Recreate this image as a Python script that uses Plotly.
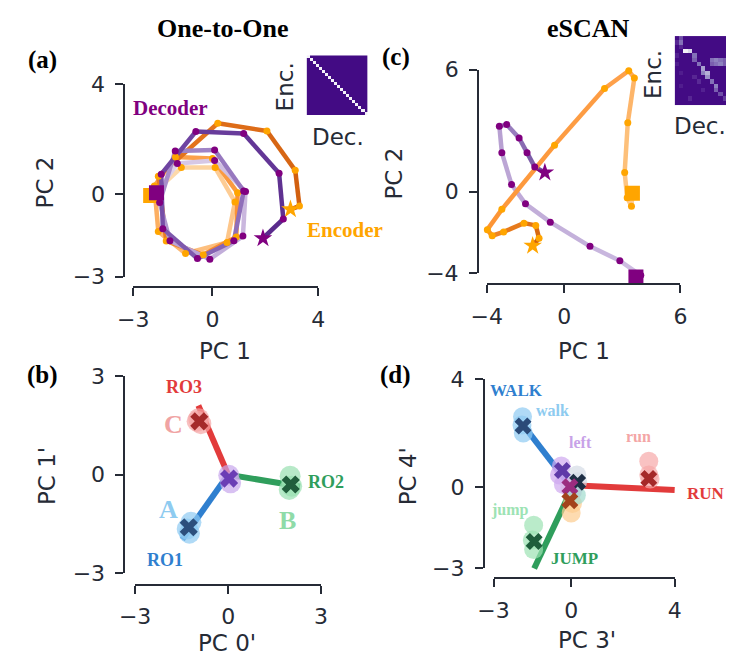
import numpy as np
import plotly.graph_objects as go

W, H = 733, 672
AX = "#262b36"
SERIF = "Liberation Serif, Times New Roman, serif"
SANS = "DejaVu Sans, sans-serif"

# ---------------- data ----------------
# (a) One-to-One trajectories in PC1/PC2
A_ENC_X = [-2.34, -1.18, 0.10, 0.85, 0.55, -1.02, -2.05, -2.20, -1.40, 0.00, 0.95, 0.90, -0.35, -1.75, -2.05, 0.20, 2.06, 3.13, 3.29, 2.95]
A_ENC_Y = [-0.05, 0.97, 0.97, -0.28, -1.75, -2.15, -1.35, 0.30, 1.35, 1.30, 0.05, -1.55, -2.20, -1.70, 0.65, 2.58, 2.30, 0.87, -0.43, -0.55]
A_DEC_X = [-2.12, -1.33, 0.08, 1.25, 1.15, -0.10, -1.61, -2.00, -1.41, 0.08, 1.18, 0.81, -0.57, -1.88, -1.94, -0.63, 1.18, 2.52, 2.68, 1.91]
A_DEC_Y = [0.05, 1.12, 1.23, 0.10, -1.52, -2.36, -1.69, -0.30, 1.57, 1.61, 0.12, -1.69, -2.34, -1.25, 0.73, 2.28, 2.21, 0.76, -0.90, -1.60]

# (c) eSCAN trajectories in PC1/PC2
C_ENC_X = [3.52, 3.47, 3.25, 3.12, 3.28, 3.62, 3.33, 2.08, -0.50, -3.22, -3.97, -3.72, -3.13, -2.08, -1.47, -1.30, -1.63]
C_ENC_Y = [-0.08, -0.72, -0.30, 0.94, 3.39, 5.60, 5.95, 5.08, 2.29, -0.87, -1.87, -2.17, -1.98, -1.55, -1.66, -2.29, -2.66]
C_DEC_X = [3.70, 3.95, 2.87, 1.33, -0.72, -2.00, -2.72, -3.22, -3.35, -2.97, -2.33, -1.92, -1.52, -1.00]
C_DEC_Y = [-4.20, -4.12, -3.40, -2.69, -1.50, -0.60, 0.35, 1.92, 3.22, 3.31, 2.64, 1.92, 1.21, 0.94]

# (a) alignment matrix: one-to-one (diagonal)
A_ALIGN_N = 20
# (c) alignment matrix: sparse entries (row, col, value)
C_ALIGN_N = 16
C_ALIGN_CELLS = [
    (0, 1, 0.45), (1, 1, 0.55), (1, 0, 0.30), (2, 1, 0.30),
    (3, 2, 1.00), (3, 3, 0.90), (4, 4, 0.55), (5, 4, 0.50),
    (6, 5, 0.55), (7, 6, 0.70), (8, 6, 0.60), (8, 7, 0.75),
    (9, 7, 0.65), (10, 8, 0.55), (11, 9, 0.60), (12, 9, 0.50),
    (13, 10, 0.45), (14, 11, 0.40),
    (5, 8, 0.55), (5, 9, 0.60), (5, 10, 0.55), (5, 11, 0.50),
    (6, 8, 0.50), (6, 9, 0.55), (6, 10, 0.60), (6, 11, 0.50),
    (10, 5, 0.35), (14, 3, 0.30), (4, 0, 0.25), (6, 0, 0.20),
    (8, 1, 0.20), (11, 1, 0.20), (9, 4, 0.30), (12, 6, 0.25),
]

# (b) readouts and clusters (order: A/RO1, B/RO2, C/RO3, origin)
B_RO_END_X = [-1.48, 2.32, -0.96]
B_RO_END_Y = [-1.97, -0.36, 2.10]
B_CENT_X = [-1.27, 2.02, -0.93, 0.03]
B_CENT_Y = [-1.60, -0.30, 1.62, -0.12]
B_BLOB_X = [[-1.20, -1.32, -1.25], [2.00, 2.05, 1.97], [-0.95, -0.88, -1.00], [0.02, 0.08]]
B_BLOB_Y = [[-1.45, -1.65, -1.78], [-0.05, -0.35, -0.45], [1.70, 1.55, 1.62], [-0.02, -0.25]]

# (d) readouts (WALK, RUN, JUMP) and clusters
D_RO_START_X = [0.00, 0.05, 0.00]
D_RO_START_Y = [0.00, 0.07, -0.10]
D_RO_END_X = [-1.86, 4.00, -1.43]
D_RO_END_Y = [2.30, -0.10, -3.00]
D_CENT_X = [-1.86, 3.00, -1.43, -0.34, 0.25, -0.05, -0.05]
D_CENT_Y = [2.26, 0.32, -2.00, 0.62, 0.18, 0.02, -0.50]
D_BLOB_X = [[-1.88, -1.90, -1.85], [3.00, 3.00, 3.05], [-1.45, -1.50, -1.45], [-0.38, -0.45, -0.30], [0.22, 0.25], [-0.05, 0.05], [0.00, 0.05], [0.20]]
D_BLOB_Y = [[2.60, 2.30, 2.00], [0.96, 0.45, 0.30], [-1.40, -1.95, -2.30], [0.78, 0.45, 0.10], [0.45, 0.20], [0.00, -0.15], [-0.95, -0.60], [-0.30]]

# ---------------- helpers ----------------
def fx(px):
    return px / W

def fy(py):
    return 1 - py / H

def hex2rgb(h):
    h = h.lstrip('#')
    return tuple(int(h[i:i + 2], 16) for i in (0, 2, 4))

def ramp(stops, t):
    n = len(stops) - 1
    pos = max(0.0, min(1.0, t)) * n
    i = min(int(pos), n - 1)
    f = pos - i
    a, b = hex2rgb(stops[i]), hex2rgb(stops[i + 1])
    c = tuple(round(a[k] + (b[k] - a[k]) * f) for k in range(3))
    return 'rgb(%d,%d,%d)' % c

fig = go.Figure()

def add_path(xs, ys, stops, width, xa, ya):
    n = len(xs)
    for i in range(n - 1):
        t = i / (n - 2) if n > 2 else 0
        fig.add_trace(go.Scatter(x=[xs[i], xs[i + 1]], y=[ys[i], ys[i + 1]], mode='lines',
                                 line=dict(color=ramp(stops, t), width=width),
                                 xaxis=xa, yaxis=ya, showlegend=False, hoverinfo='skip'))

def add_markers(xs, ys, col, xa, ya, dot=7, sq=15, star=14):
    fig.add_trace(go.Scatter(x=xs[1:-1], y=ys[1:-1], mode='markers', marker=dict(color=col, size=dot),
                             xaxis=xa, yaxis=ya, showlegend=False, hoverinfo='skip'))
    fig.add_trace(go.Scatter(x=[xs[0]], y=[ys[0]], mode='markers',
                             marker=dict(symbol='square', color=col, size=sq),
                             xaxis=xa, yaxis=ya, showlegend=False, hoverinfo='skip'))
    fig.add_trace(go.Scatter(x=[xs[-1]], y=[ys[-1]], mode='markers',
                             marker=dict(symbol='star', color=col, size=star),
                             xaxis=xa, yaxis=ya, showlegend=False, hoverinfo='skip'))

ORANGE = '#ffa500'
PURPLE = '#800080'
ENC_A = ['#fdd9aa', '#fdc283', '#fca552', '#f98e30', '#e0701a', '#cc5a0c']
DEC_A = ['#ddd0ea', '#c6b2dc', '#a68bc9', '#8866b5', '#6b3f9e', '#5a2b8c']
ENC_C = ['#fdce94', '#fdc07a', '#fea04a', '#fc9536', '#e67a1c', '#d0600c']
DEC_C = ['#d3c4e5', '#c6b3dc', '#c0abd8', '#b7a0d2', '#8e71b6', '#6f4f9e']

# ---- panel (a)
add_path(A_ENC_X, A_ENC_Y, ENC_A, 4.5, 'x', 'y')
add_path(A_DEC_X, A_DEC_Y, DEC_A, 4.5, 'x', 'y')
add_markers(A_ENC_X, A_ENC_Y, ORANGE, 'x', 'y')
add_markers(A_DEC_X, A_DEC_Y, PURPLE, 'x', 'y')

# ---- panel (c)
add_path(C_DEC_X, C_DEC_Y, DEC_C, 4.5, 'x2', 'y2')
add_path(C_ENC_X, C_ENC_Y, ENC_C, 4.5, 'x2', 'y2')
add_markers(C_DEC_X, C_DEC_Y, PURPLE, 'x2', 'y2')
add_markers(C_ENC_X, C_ENC_Y, ORANGE, 'x2', 'y2')

# ---- panel (b)
B_LINE_COL = ['#2f7fcf', '#2f9e5c', '#e23b3b']
B_BLOB_COL = ['#8ecbf2', '#98dfb0', '#f5a5a5', '#c7a6ec']
B_X_COL = ['#2c4f7c', '#215e3c', '#a52a2a', '#6a3db5']
for i in range(3):
    fig.add_trace(go.Scatter(x=[0, B_RO_END_X[i]], y=[0, B_RO_END_Y[i]], mode='lines',
                             line=dict(color=B_LINE_COL[i], width=6), xaxis='x3', yaxis='y3',
                             showlegend=False, hoverinfo='skip'))
for i in range(4):
    fig.add_trace(go.Scatter(x=B_BLOB_X[i], y=B_BLOB_Y[i], mode='markers',
                             marker=dict(color=B_BLOB_COL[i], size=21, opacity=0.7),
                             xaxis='x3', yaxis='y3', showlegend=False, hoverinfo='skip'))
for i in range(4):
    fig.add_trace(go.Scatter(x=[B_CENT_X[i]], y=[B_CENT_Y[i]], mode='markers',
                             marker=dict(symbol='x', color=B_X_COL[i], size=16),
                             xaxis='x3', yaxis='y3', showlegend=False, hoverinfo='skip'))

# ---- panel (d)
D_LINE_COL = ['#2f7fcf', '#e23b3b', '#2f9e5c']
D_BLOB_COL = ['#8ecbf2', '#f7a8a8', '#9de3b4', '#cfa8ef', '#d4dce6', '#d9b3e6', '#fccc8e', '#9fdccd']
D_X_COL = ['#2a4a78', '#a52828', '#1f5e3c', '#5f3aa8', '#1f2f45', '#9b2d7f', '#a3431c']
for i in range(3):
    fig.add_trace(go.Scatter(x=[D_RO_START_X[i], D_RO_END_X[i]], y=[D_RO_START_Y[i], D_RO_END_Y[i]], mode='lines',
                             line=dict(color=D_LINE_COL[i], width=6), xaxis='x4', yaxis='y4',
                             showlegend=False, hoverinfo='skip'))
for i in range(len(D_BLOB_X)):
    fig.add_trace(go.Scatter(x=D_BLOB_X[i], y=D_BLOB_Y[i], mode='markers',
                             marker=dict(color=D_BLOB_COL[i], size=19, opacity=0.7),
                             xaxis='x4', yaxis='y4', showlegend=False, hoverinfo='skip'))
for i in range(len(D_CENT_X)):
    fig.add_trace(go.Scatter(x=[D_CENT_X[i]], y=[D_CENT_Y[i]], mode='markers',
                             marker=dict(symbol='x', color=D_X_COL[i], size=15),
                             xaxis='x4', yaxis='y4', showlegend=False, hoverinfo='skip'))

# ---- heatmaps
HM_SCALE = [[0, '#430b84'], [0.35, '#5a2a96'], [0.6, '#8f83c0'], [0.8, '#c4c0e0'], [1, '#f3f1f8']]
za = np.eye(A_ALIGN_N)
fig.add_trace(go.Heatmap(z=za, colorscale=HM_SCALE, zmin=0, zmax=1, showscale=False,
                         xaxis='x5', yaxis='y5', hoverinfo='skip'))
zc = np.zeros((C_ALIGN_N, C_ALIGN_N))
for r, c, v in C_ALIGN_CELLS:
    zc[r, c] = v
fig.add_trace(go.Heatmap(z=zc, colorscale=HM_SCALE, zmin=0, zmax=1, showscale=False,
                         xaxis='x6', yaxis='y6', hoverinfo='skip'))

# ---------------- axes ----------------
def tt(v):
    return ('\u2212%g' % -v) if v < 0 else ('%g' % v)

EXT = 0.8  # invisible margin (data units) around each panel so marks are not clipped

def panel_axes(n_data, n_spine, xpx, xr, xt, ypx, yr, yt, xspine_py, yspine_px):
    sx = (xpx[1] - xpx[0]) / (xr[1] - xr[0])
    sy = (ypx[1] - ypx[0]) / (yr[1] - yr[0])
    d = {}
    kx = 'xaxis' if n_data == 1 else 'xaxis%d' % n_data
    ky = 'yaxis' if n_data == 1 else 'yaxis%d' % n_data
    d[kx] = dict(domain=[fx(xpx[0] - EXT * sx), fx(xpx[1] + EXT * sx)],
                 range=[xr[0] - EXT, xr[1] + EXT], visible=False,
                 anchor='y' if n_data == 1 else 'y%d' % n_data, fixedrange=True)
    d[ky] = dict(domain=[fy(ypx[1] + EXT * sy), fy(ypx[0] - EXT * sy)],
                 range=[yr[0] - EXT, yr[1] + EXT], visible=False,
                 anchor='x' if n_data == 1 else 'x%d' % n_data, fixedrange=True)
    common = dict(showline=True, linecolor=AX, linewidth=2, ticks='outside', ticklen=8,
                  tickwidth=2, tickcolor=AX, showgrid=False, zeroline=False,
                  tickfont=dict(family=SANS, size=22, color=AX), fixedrange=True,
                  anchor='free')
    d['xaxis%d' % n_spine] = dict(domain=[fx(xpx[0]), fx(xpx[1])], range=xr, tickvals=xt,
                                  ticktext=[tt(v) for v in xt], position=fy(xspine_py),
                                  ticklabelstandoff=4, **common)
    d['yaxis%d' % n_spine] = dict(domain=[fy(ypx[1]), fy(ypx[0])], range=yr, tickvals=yt,
                                  ticktext=[tt(v) for v in yt], position=fx(yspine_px),
                                  ticklabelstandoff=6, **common)
    fig.add_trace(go.Scatter(x=[], y=[], xaxis='x%d' % n_spine, yaxis='y%d' % n_spine,
                             showlegend=False, hoverinfo='skip'))
    return d

layout = {}
layout.update(panel_axes(1, 7, [121, 312], [-3, 4], [-3, 0, 4], [75, 275], [-3, 4], [-3, 0, 4], 286, 112))
layout.update(panel_axes(2, 8, [486, 686], [-4, 6], [-4, 0, 6], [60, 271], [-4, 6], [-4, 0, 6], 283, 477))
layout.update(panel_axes(3, 9, [123, 315], [-3, 3], [-3, 0, 3], [378, 583], [-3, 3], [-3, 0, 3], 595, 112))
layout.update(panel_axes(4, 10, [493, 680], [-3, 4], [-3, 0, 4], [381, 578], [-3, 4], [-3, 0, 4], 588, 483))
layout.update(dict(
    xaxis5=dict(domain=[fx(300), fx(363)], range=[-0.5, A_ALIGN_N - 0.5], visible=False, anchor='y5'),
    yaxis5=dict(domain=[fy(107), fy(45)], range=[A_ALIGN_N - 0.5, -0.5], visible=False, anchor='x5'),
    xaxis6=dict(domain=[fx(680), 1.0], range=[-0.5, -0.5 + 53 / 4.5], visible=False, anchor='y6'),
    yaxis6=dict(domain=[fy(97), fy(25)], range=[C_ALIGN_N - 0.5, -0.5], visible=False, anchor='x6'),
))

# ---------------- annotations ----------------
ann = []
def txt(s, px, py, size, color=AX, family=SANS, angle=0, xanchor='center'):
    ann.append(dict(text=s, x=fx(px), y=fy(py), xref='paper', yref='paper', showarrow=False,
                    xanchor=xanchor, yanchor='middle', textangle=angle,
                    font=dict(family=family, size=size, color=color)))

txt('<b>One-to-One</b>', 213, 17, 26, '#000000', SERIF)
txt('<b>eSCAN</b>', 591, 17, 26, '#000000', SERIF)
txt('<b>(a)</b>', 27, 50, 25, '#000000', SERIF)
txt('<b>(c)</b>', 392, 47, 25, '#000000', SERIF)
txt('<b>(b)</b>', 27, 377, 25, '#000000', SERIF)
txt('<b>(d)</b>', 392, 377, 25, '#000000', SERIF)

txt('PC 1', 216, 352, 23)
txt('PC 2', 30, 177, 23, angle=-90)
txt('PC 1', 586, 352, 23)
txt('PC 2', 390, 168, 23, angle=-90)
txt("PC 0'", 218, 655, 23)
txt("PC 1'", 32, 482, 23, angle=-90)
txt("PC 3'", 590, 652, 23)
txt("PC 4'", 405, 482, 23, angle=-90)

txt('Enc.', 278, 78, 23, angle=-90)
txt('Dec.', 332, 130, 23)
txt('Enc.', 657, 65, 23, angle=-90)
txt('Dec.', 706, 118, 23)

txt('<b>Decoder</b>', 159, 100, 21, PURPLE, SERIF)
txt('<b>Encoder</b>', 298, 226, 21, ORANGE, SERIF, xanchor='left')

txt('<b>RO3</b>', 173, 389, 18, '#e23b3b', SERIF)
txt('<b>C</b>', 163, 428, 26, '#f0a3a3', SERIF)
txt('<b>RO2</b>', 320, 488, 18, '#2f9e5c', SERIF)
txt('<b>B</b>', 280, 528, 26, '#8fdba8', SERIF)
txt('<b>A</b>', 157, 517, 26, '#8ecbf0', SERIF)
txt('<b>RO1</b>', 154, 569, 18, '#2f7fcf', SERIF)

txt('<b>WALK</b>', 517, 393, 17, '#2f7fcf', SERIF)
txt('<b>walk</b>', 554, 414, 16, '#8ecbf0', SERIF)
txt('<b>left</b>', 583, 447, 16, '#c8a2e8', SERIF)
txt('<b>run</b>', 643, 441, 16, '#f4a6a6', SERIF)
txt('<b>RUN</b>', 712, 500, 17, '#e23b3b', SERIF)
txt('<b>jump</b>', 510, 517, 16, '#9de3b4', SERIF)
txt('<b>JUMP</b>', 577, 568, 17, '#2f9e5c', SERIF)

fig.update_layout(width=W, height=H, margin=dict(l=0, r=0, t=0, b=0),
                  paper_bgcolor='white', plot_bgcolor='rgba(0,0,0,0)', showlegend=False,
                  annotations=ann, **layout)

fig.write_html('out.html', config={'staticPlot': True, 'displayModeBar': False},
               post_script="document.body.style.margin='0px';document.body.style.overflow='hidden';")
